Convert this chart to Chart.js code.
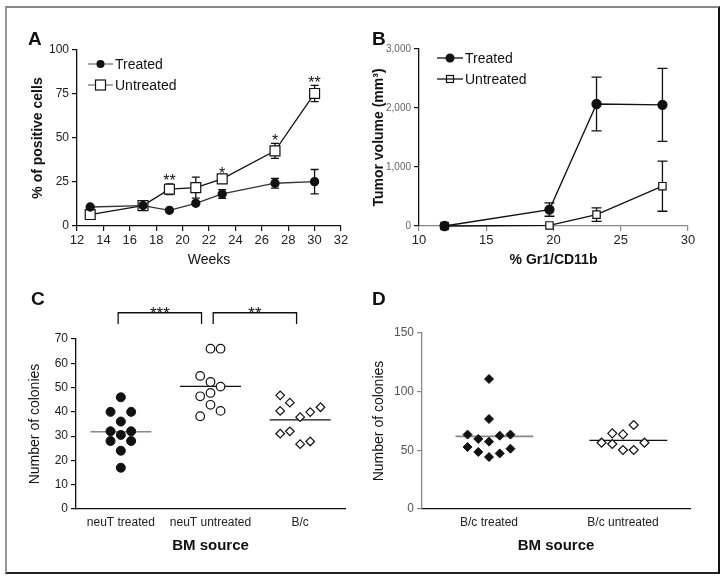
<!DOCTYPE html>
<html>
<head>
<meta charset="utf-8">
<script src="https://cdn.jsdelivr.net/npm/chart.js@4.4.0/dist/chart.umd.min.js"></script>
<style>
  body { margin: 0; background: #fff; }
  #wrap { position: relative; width: 725px; height: 578px; background: #fff; overflow: hidden; font-family: "Liberation Sans", Arial, sans-serif; }
  #frame { position: absolute; left: 5px; top: 6px; width: 711px; height: 564px; border-top: 2px solid #888; border-left: 2px solid #999; border-right: 2px solid #111; border-bottom: 2px solid #222; }
  .box { position: absolute; }
  .tag { position: absolute; font-weight: bold; font-size: 19px; color: #111; line-height: 1; }
</style>
</head>
<body>
<div id="wrap">
  <div id="frame"></div>
  <div class="box" style="left:0;top:0;width:360px;height:290px"><canvas id="chartA" width="360" height="290"></canvas></div>
  <div class="box" style="left:360px;top:0;width:365px;height:290px"><canvas id="chartB" width="365" height="290"></canvas></div>
  <div class="box" style="left:0;top:280px;width:360px;height:290px"><canvas id="chartC" width="360" height="290"></canvas></div>
  <div class="box" style="left:360px;top:280px;width:365px;height:290px"><canvas id="chartD" width="365" height="290"></canvas></div>
  <div class="tag" style="left:28px;top:29px">A</div>
  <div class="tag" style="left:372px;top:29px">B</div>
  <div class="tag" style="left:31px;top:289px">C</div>
  <div class="tag" style="left:372px;top:289px">D</div>
</div>
<script>
// panel A
const weeks = [13, 17, 19, 21, 23, 27, 30]
const treatedA = [10.8, 11.6, 8.9, 12.9, 18.2, 24.3, 25.2]
const treatedAErr = [0, 0, 0, 0, 2.5, 2.8, 6.9]
const untreatedA = [6.5, 11.6, 20.9, 21.8, 26.8, 42.7, 75.3]
const untreatedAErr = [1.5, 0, 3, 6, 1.5, 4.3, 4.6]
const starWeeks = [19, 23, 27, 30]
const starMarks = ["**", "*", "*", "**"]

// panel B
const gr1 = [11.9, 19.7, 23.2, 28.1]
const treatedB = [0, 278, 2068, 2053]
const treatedBErr = [0, 113, 456, 618]
const untreatedB = [0, 10, 193, 675]
const untreatedBErr = [0, 0, 113, 425]

// panel C
const catsC = ["neuT treated", "neuT untreated", "B/c"]
const neuTTreated = [46, 40, 40, 36, 32, 32, 30.5, 28, 28, 24, 17]
const neuTTreatedJit = [0, -0.115, 0.115, 0, -0.115, 0.115, 0, -0.115, 0.115, 0, 0]
const neuTUntreated = [66, 66, 54.8, 52.3, 50.4, 46.4, 47.8, 42.9, 38.2, 40.4]
const neuTUntreatedJit = [0, 0.112, -0.115, 0, 0.112, -0.115, 0, 0, -0.115, 0.112]
const bcC = [46.8, 43.8, 41.9, 40.4, 39.9, 37.8, 31, 32, 27.8, 26.7]
const bcCJit = [-0.223, -0.115, 0.227, -0.223, 0.112, 0, -0.223, -0.115, 0.112, 0]
const meansC = [31.8, 50.5, 36.7]
const sigC = [{from: 0.97, to: 1.9, mark: "***"}, {from: 2.03, to: 2.96, mark: "**"}]

// panel D
const catsD = ["B/c treated", "B/c untreated"]
const bcTreated = [110.8, 76.7, 63.4, 62.5, 63.4, 59.7, 57.4, 52.8, 51.4, 48.6, 47.4, 44.3]
const bcTreatedJit = [0, 0, -0.16, 0.08, 0.16, -0.08, 0, -0.16, 0.16, -0.08, 0.08, 0]
const bcUntreated = [71.6, 64.5, 63.6, 56.5, 55.4, 56.5, 50.3, 50.3]
const bcUntreatedJit = [0.08, -0.08, 0, -0.16, -0.08, 0.16, 0, 0.08]
const meansD = [61.9, 58.5]

Chart.defaults.font.family = '"Liberation Sans", Arial, sans-serif'
Chart.defaults.color = "#222"
Chart.defaults.animation = false

const xy = (xs, ys) => xs.map((x, i) => ({x: x, y: ys[i]}))
const dots = (cat, ys, jit) => ys.map((y, i) => ({x: cat + jit[i], y: y}))
const meanLine = (cat, m, half, shift) => [{x: cat + shift - half, y: m}, {x: cat + shift + half, y: m}]

// error bars, legend, stars, brackets
const extras = {
  id: "extras",
  beforeDatasetsDraw(chart, args, opts) {
    const ctx = chart.ctx
    const y = chart.scales.y
    chart.data.datasets.forEach((ds, di) => {
      if (!ds.errors) return
      const meta = chart.getDatasetMeta(di)
      ctx.save()
      ctx.strokeStyle = "#111"
      ctx.lineWidth = 1.3
      meta.data.forEach((pt, i) => {
        const e = ds.errors[i]
        if (!e) return
        const v = ds.data[i].y
        const t = y.getPixelForValue(v + e), b = y.getPixelForValue(v - e)
        ctx.beginPath()
        ctx.moveTo(pt.x, t); ctx.lineTo(pt.x, b)
        ctx.moveTo(pt.x - opts.capW, t); ctx.lineTo(pt.x + opts.capW, t)
        ctx.moveTo(pt.x - opts.capW, b); ctx.lineTo(pt.x + opts.capW, b)
        ctx.stroke()
      })
      ctx.restore()
    })
  },
  afterDatasetsDraw(chart, args, opts) {
    const ctx = chart.ctx
    const xs = chart.scales.x, ys = chart.scales.y
    ctx.save()
    if (opts.legend) {
      const L = opts.legend
      chart.data.datasets.filter(ds => ds.legendText).forEach((ds, k) => {
        const cy = L.y + k * L.dy
        ctx.strokeStyle = L.lineColor
        ctx.lineWidth = 1.3
        ctx.beginPath(); ctx.moveTo(L.x, cy); ctx.lineTo(L.x + L.w, cy); ctx.stroke()
        const mx = L.x + L.w / 2
        ctx.lineWidth = 1.2
        ctx.strokeStyle = "#111"
        if (ds.pointStyle === "rect") {
          const s = L.sq
          if (L.sqFill) { ctx.fillStyle = "#fff"; ctx.fillRect(mx - s, cy - s, 2 * s, 2 * s) }
          ctx.strokeRect(mx - s, cy - s, 2 * s, 2 * s)
        } else {
          ctx.fillStyle = "#111"
          ctx.beginPath(); ctx.arc(mx, cy, L.dot, 0, Math.PI * 2); ctx.fill()
        }
        ctx.fillStyle = "#111"
        ctx.font = "14px 'Liberation Sans', Arial, sans-serif"
        ctx.textBaseline = "middle"
        ctx.textAlign = "left"
        ctx.fillText(ds.legendText, L.x + L.w + 2, cy + 1)
      })
    }
    if (opts.stars) {
      ctx.fillStyle = "#111"
      ctx.font = "16px 'Liberation Sans', Arial, sans-serif"
      ctx.textAlign = "center"
      ctx.textBaseline = "alphabetic"
      opts.stars.forEach(s => {
        ctx.fillText(s.mark, xs.getPixelForValue(s.x), ys.getPixelForValue(s.top) + 2.5)
      })
    }
    if (opts.brackets) {
      ctx.strokeStyle = "#111"
      ctx.fillStyle = "#111"
      ctx.lineWidth = 1.3
      ctx.font = "17px 'Liberation Sans', Arial, sans-serif"
      ctx.textAlign = "center"
      ctx.textBaseline = "alphabetic"
      opts.brackets.forEach(b => {
        const x1 = xs.getPixelForValue(b.from), x2 = xs.getPixelForValue(b.to)
        const top = ys.getPixelForValue(opts.bracketTop), leg = ys.getPixelForValue(opts.bracketLeg)
        ctx.beginPath()
        ctx.moveTo(x1, leg); ctx.lineTo(x1, top); ctx.lineTo(x2, top); ctx.lineTo(x2, leg)
        ctx.stroke()
        ctx.fillText(b.mark, (x1 + x2) / 2, top + 6)
      })
    }
    ctx.restore()
  }
}

function yAxis(opts) {
  return {
    type: "linear", min: opts.min, max: opts.max,
    afterFit: s => { s.width = opts.width },
    border: {color: opts.line || "#111", width: 1.3},
    grid: {drawOnChartArea: false, tickLength: 5, color: opts.line || "#111", lineWidth: 1.2},
    ticks: {stepSize: opts.step, font: {size: opts.size || 12}, color: opts.tickColor || "#222", padding: 3,
      callback: opts.fmt || (v => v)},
    title: {display: true, text: opts.title, color: "#111",
      font: {size: 14, weight: opts.bold ? "bold" : "normal"}, padding: {top: opts.tpad, bottom: 0}}
  }
}

// ---- A ----
new Chart(document.getElementById("chartA"), {
  type: "line",
  data: {
    datasets: [
      {legendText: "Treated", data: xy(weeks, treatedA), errors: treatedAErr, borderColor: "#333", borderWidth: 1.3,
        pointStyle: "circle", pointRadius: 4, pointBackgroundColor: "#111", pointBorderColor: "#111", clip: false},
      {legendText: "Untreated", data: xy(weeks, untreatedA), errors: untreatedAErr, borderColor: "#111", borderWidth: 1.3,
        pointStyle: "rect", pointRadius: 7, pointBackgroundColor: "#fff", pointBorderColor: "#111", pointBorderWidth: 1.2, clip: false}
    ]
  },
  options: {
    responsive: false,
    layout: {padding: {left: 0, top: 50, right: 19, bottom: 0}},
    scales: {
      x: {
        type: "linear", min: 12, max: 32,
        afterFit: s => { s.height = 64 },
        border: {color: "#111", width: 1.3},
        grid: {drawOnChartArea: false, tickLength: 5, color: "#111", lineWidth: 1.2},
        ticks: {stepSize: 2, font: {size: 13}, color: "#222", padding: 2, maxRotation: 0},
        title: {display: true, text: "Weeks", color: "#111", font: {size: 14}, padding: {top: 0, bottom: 21}}
      },
      y: yAxis({min: 0, max: 100, step: 25, width: 77, title: "% of positive cells", bold: true, tpad: 29.6})
    },
    plugins: {
      legend: {display: false}, tooltip: {enabled: false},
      extras: {
        capW: 4,
        legend: {x: 88, y: 64, dy: 21, w: 25, lineColor: "#777", sq: 5, sqFill: true, dot: 4},
        stars: starWeeks.map((w, k) => {
          const i = weeks.indexOf(w)
          return {x: w, top: untreatedA[i] + untreatedAErr[i], mark: starMarks[k]}
        })
      }
    }
  },
  plugins: [extras]
})

// ---- B ----
new Chart(document.getElementById("chartB"), {
  type: "line",
  data: {
    datasets: [
      {legendText: "Treated", data: xy(gr1, treatedB), errors: treatedBErr, borderColor: "#111", borderWidth: 1.3,
        pointStyle: "circle", pointRadius: 4.5, pointBackgroundColor: "#111", pointBorderColor: "#111", clip: false},
      {legendText: "Untreated", data: xy(gr1, untreatedB), errors: untreatedBErr, borderColor: "#111", borderWidth: 1.3,
        pointStyle: "rect", pointRadius: 5.2, pointBackgroundColor: "#fff", pointBorderColor: "#111", pointBorderWidth: 1.2, clip: false}
    ]
  },
  options: {
    responsive: false,
    layout: {padding: {left: 0, top: 49, right: 37, bottom: 0}},
    scales: {
      x: {
        type: "linear", min: 10, max: 30,
        afterFit: s => { s.height = 64 },
        border: {color: "#888", width: 1.3},
        grid: {drawOnChartArea: false, tickLength: 5, color: "#888", lineWidth: 1.2},
        ticks: {stepSize: 5, font: {size: 13}, color: "#222", padding: 2, maxRotation: 0},
        title: {display: true, text: "% Gr1/CD11b", color: "#111", font: {size: 14, weight: "bold"}, padding: {top: 0, bottom: 21}}
      },
      y: yAxis({min: 0, max: 3000, step: 1000, width: 59, size: 10, tickColor: "#666", title: "Tumor volume (mm³)", bold: true, tpad: 10.6,
        fmt: v => v.toLocaleString("en-US")})
    },
    plugins: {
      legend: {display: false}, tooltip: {enabled: false},
      extras: {capW: 5, legend: {x: 77, y: 58, dy: 21, w: 26, lineColor: "#111", sq: 3.5, sqFill: false, dot: 4.5}}
    }
  },
  plugins: [extras]
})

// ---- C ----
new Chart(document.getElementById("chartC"), {
  type: "scatter",
  data: {
    datasets: [
      {data: dots(1, neuTTreated, neuTTreatedJit), pointStyle: "circle", pointRadius: 4.5, pointBackgroundColor: "#111", pointBorderColor: "#111", clip: false},
      {data: dots(2, neuTUntreated, neuTUntreatedJit), pointStyle: "circle", pointRadius: 4.3, pointBackgroundColor: "#fff", pointBorderColor: "#111", pointBorderWidth: 1.2, clip: false},
      {data: dots(3, bcC, bcCJit), pointStyle: "rectRot", pointRadius: 4.3, pointBackgroundColor: "#fff", pointBorderColor: "#111", pointBorderWidth: 1.2, clip: false},
      {type: "line", data: meanLine(1, meansC[0], 0.34, 0), borderColor: "#888", borderWidth: 1.6, pointRadius: 0},
      {type: "line", data: meanLine(2, meansC[1], 0.34, 0), borderColor: "#111", borderWidth: 1.4, pointRadius: 0},
      {type: "line", data: meanLine(3, meansC[2], 0.34, 0), borderColor: "#111", borderWidth: 1.4, pointRadius: 0}
    ]
  },
  options: {
    responsive: false,
    layout: {padding: {left: 0, top: 59, right: 15, bottom: 0}},
    scales: {
      x: {
        type: "linear", min: 0.5, max: 3.5,
        afterBuildTicks: s => { s.ticks = catsC.map((c, i) => ({value: i + 1})) },
        afterFit: s => { s.height = 61 },
        border: {color: "#111", width: 1.3},
        grid: {drawOnChartArea: false, drawTicks: false},
        ticks: {font: {size: 12}, color: "#222", padding: 6, maxRotation: 0, callback: v => catsC[v - 1]},
        title: {display: true, text: "BM source", color: "#111", font: {size: 15, weight: "bold"}, padding: {top: 0, bottom: 15}}
      },
      y: yAxis({min: 0, max: 70, step: 10, width: 76, title: "Number of colonies", bold: false, tpad: 26.6})
    },
    plugins: {
      legend: {display: false}, tooltip: {enabled: false},
      extras: {capW: 0, brackets: sigC, bracketTop: 80.8, bracketLeg: 76.2}
    }
  },
  plugins: [extras]
})

// ---- D ----
new Chart(document.getElementById("chartD"), {
  type: "scatter",
  data: {
    datasets: [
      {data: dots(1, bcTreated, bcTreatedJit), pointStyle: "rectRot", pointRadius: 4.5, pointBackgroundColor: "#111", pointBorderColor: "#111", clip: false},
      {data: dots(2, bcUntreated, bcUntreatedJit), pointStyle: "rectRot", pointRadius: 4.5, pointBackgroundColor: "#fff", pointBorderColor: "#111", pointBorderWidth: 1.2, clip: false},
      {type: "line", data: meanLine(1, meansD[0], 0.29, 0.04), borderColor: "#888", borderWidth: 1.6, pointRadius: 0},
      {type: "line", data: meanLine(2, meansD[1], 0.29, 0.04), borderColor: "#111", borderWidth: 1.4, pointRadius: 0}
    ]
  },
  options: {
    responsive: false,
    layout: {padding: {left: 0, top: 53, right: 35, bottom: 0}},
    scales: {
      x: {
        type: "linear", min: 0.5, max: 2.5,
        afterBuildTicks: s => { s.ticks = catsD.map((c, i) => ({value: i + 1})) },
        afterFit: s => { s.height = 61 },
        border: {color: "#111", width: 1.3},
        grid: {drawOnChartArea: false, drawTicks: false},
        ticks: {font: {size: 12}, color: "#222", padding: 6, maxRotation: 0, callback: v => catsD[v - 1]},
        title: {display: true, text: "BM source", color: "#111", font: {size: 15, weight: "bold"}, padding: {top: 0, bottom: 15}}
      },
      y: yAxis({min: 0, max: 150, step: 50, width: 62, line: "#888", tickColor: "#555", title: "Number of colonies", bold: false, tpad: 10.6})
    },
    plugins: {legend: {display: false}, tooltip: {enabled: false}, extras: {capW: 0}}
  },
  plugins: [extras]
})
</script>
</body>
</html>
